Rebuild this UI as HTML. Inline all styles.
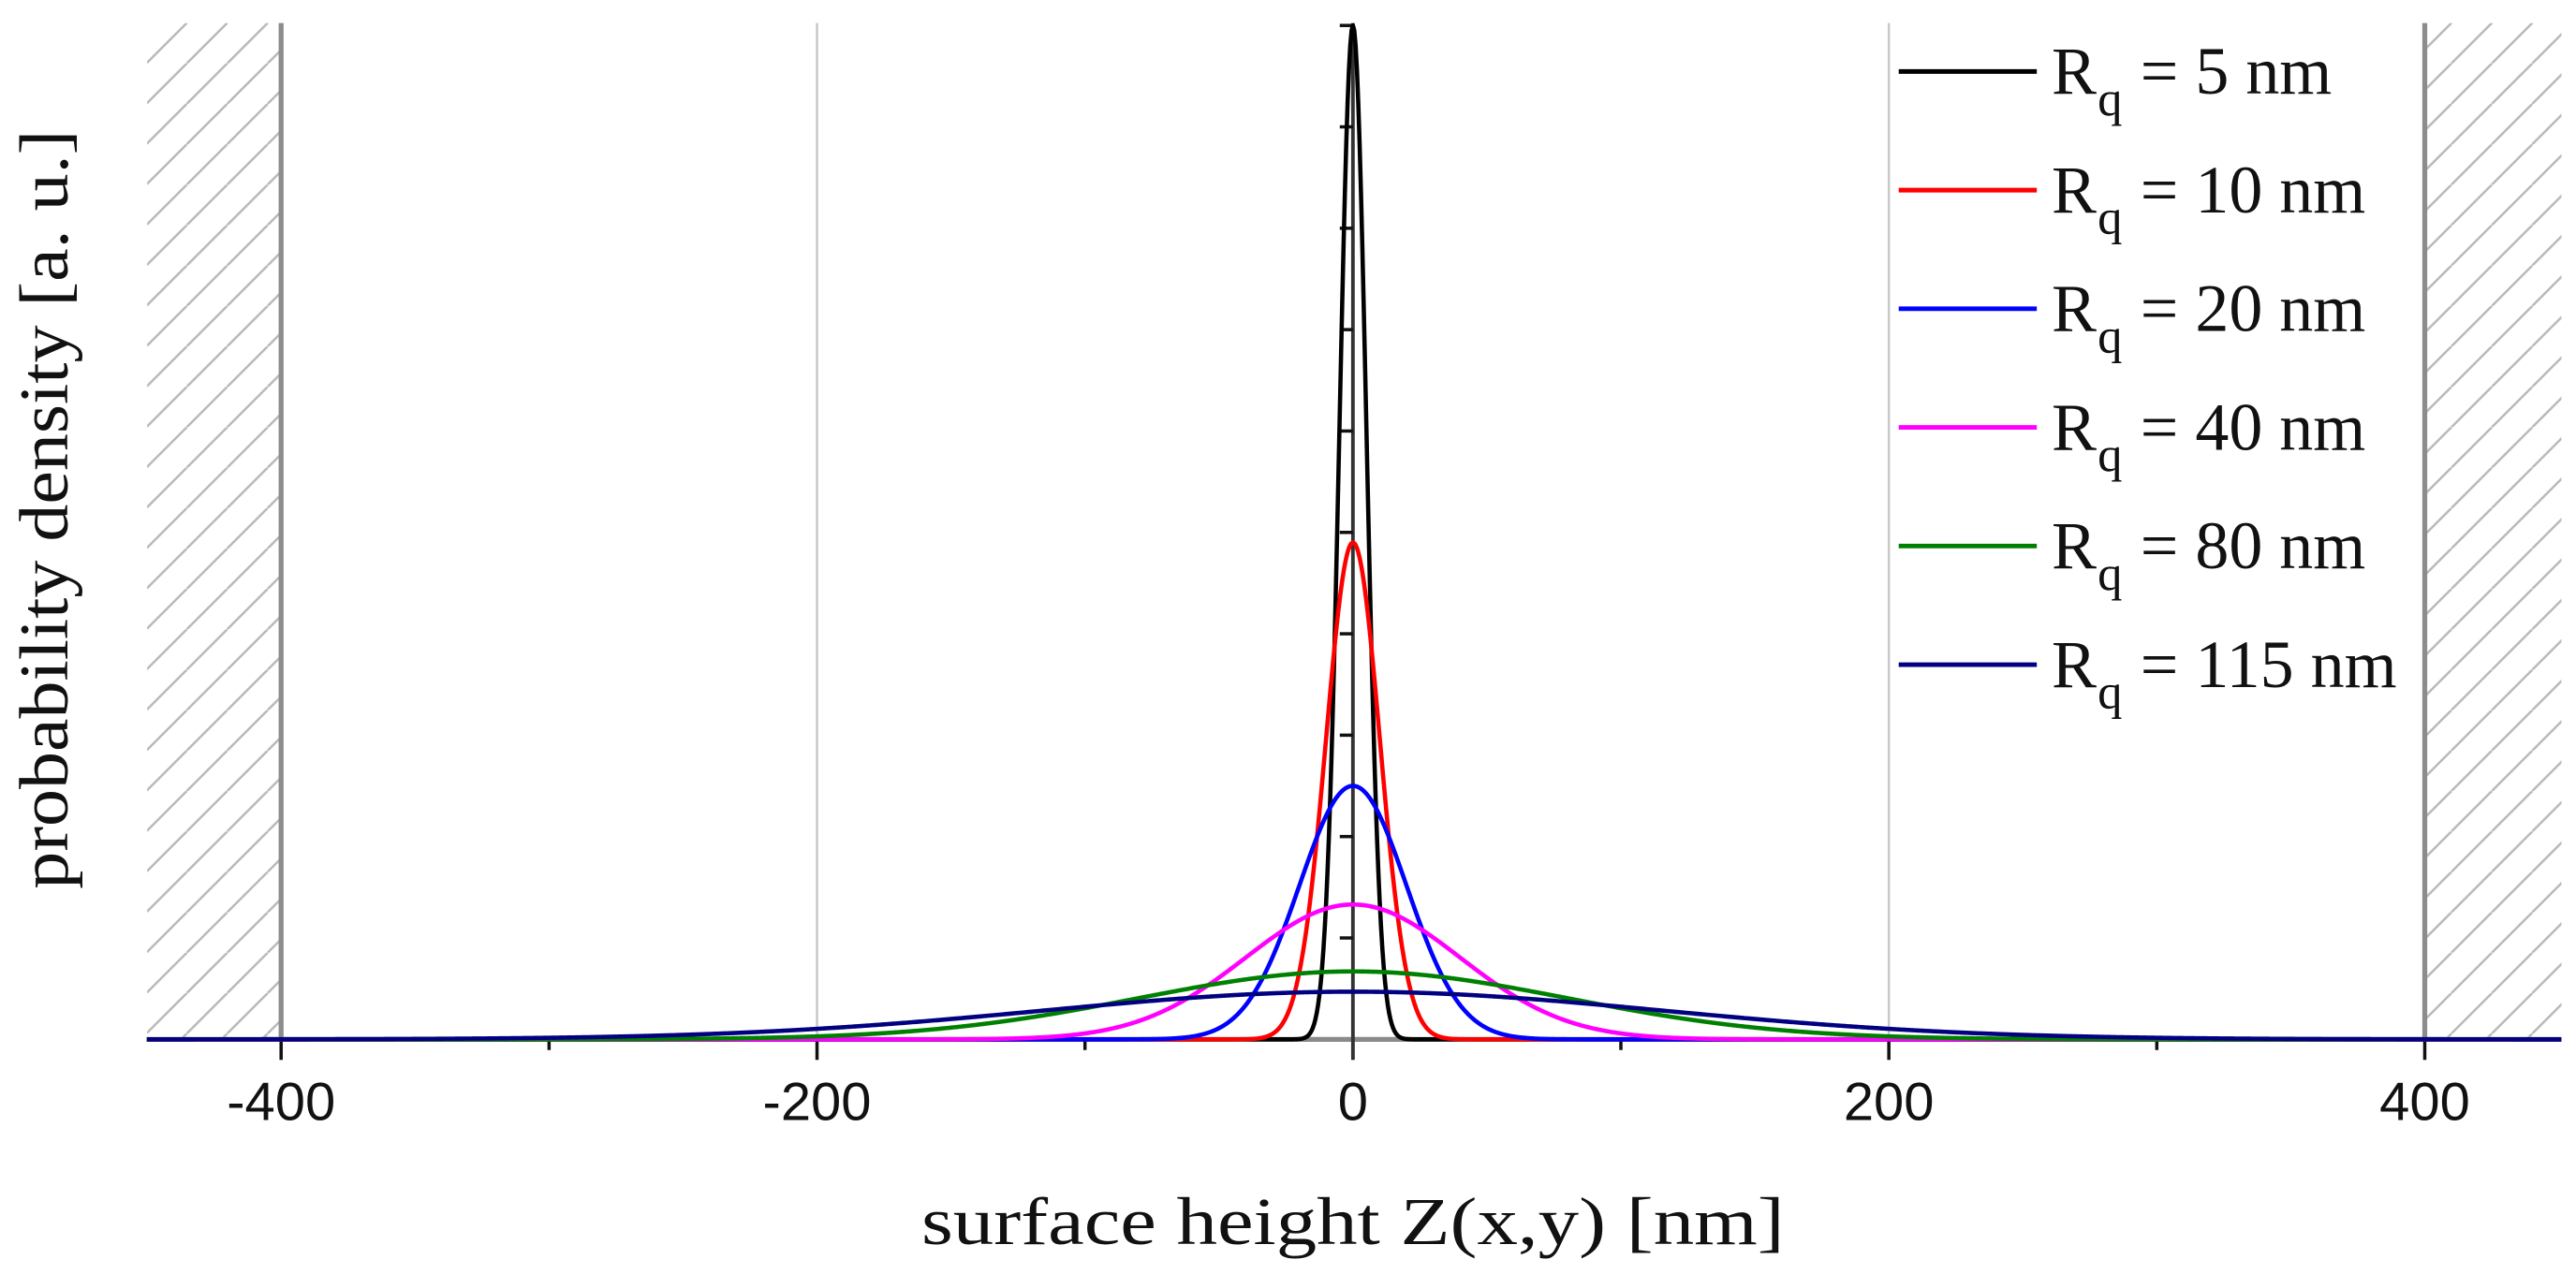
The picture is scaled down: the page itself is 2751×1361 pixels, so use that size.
<!DOCTYPE html>
<html><head><meta charset="utf-8">
<style>
html,body{margin:0;padding:0;background:#fff;}
svg{display:block;}
</style></head>
<body>
<svg id="chart" width="2751" height="1361" viewBox="0 0 1567 775.3" preserveAspectRatio="none" xmlns="http://www.w3.org/2000/svg">
<defs>
<pattern id="hatch" patternUnits="userSpaceOnUse" width="24.6" height="24.6" patternTransform="translate(89,14)">
<line x1="0" y1="24.6" x2="24.6" y2="0" stroke="#b8b8b8" stroke-width="1.4"/>
<line x1="-24.6" y1="24.6" x2="0" y2="0" stroke="#b8b8b8" stroke-width="1.4"/>
<line x1="24.6" y1="24.6" x2="49.2" y2="0" stroke="#b8b8b8" stroke-width="1.4"/>
</pattern>
<clipPath id="plotclip"><rect x="89" y="0" width="1470" height="640"/></clipPath>
</defs>
<g id="bg"></g>
<g id="grid"></g>
<g id="axes"></g>
<g id="series" clip-path="url(#plotclip)"></g>
<g id="legend"></g>
<text x="823" y="757" text-anchor="middle" font-family="Liberation Serif, serif" font-size="41" textLength="525" lengthAdjust="spacingAndGlyphs" fill="#111">surface height Z(x,y) [nm]</text>
<text transform="translate(41,310) rotate(-90)" text-anchor="middle" font-family="Liberation Serif, serif" font-size="42" textLength="462" lengthAdjust="spacingAndGlyphs" fill="#111">probability density [a. u.]</text>
</svg>
<script>
// ---- data ----
const rqValues = [5, 10, 20, 40, 80, 115];
const peakValues = [10.0, 4.9, 2.5, 1.33, 0.67, 0.47];
const seriesColors = ["#000000", "#ff0000", "#0000ff", "#ff00ff", "#008000", "#000080"];
const legendLabels = ["5 nm", "10 nm", "20 nm", "40 nm", "80 nm", "115 nm"];
const xMajorTicks = [-400, -200, 0, 200, 400];
const xMinorTicks = [-300, -100, 100, 300];
const xTickLabels = ["-400", "-200", "0", "200", "400"];
const yTicks = [1, 2, 3, 4, 5, 6, 7, 8, 9, 10];
const forbiddenZones = [[-450, -400], [400, 451]];

// ---- scales ----
const X0 = 823, PXNM = 1.63, Y0 = 632.5, PXU = 61.7;
function sx(v){ return X0 + v * PXNM; }
function sy(v){ return Y0 - v * PXU; }
const NS = "http://www.w3.org/2000/svg";
function mk(tag, attrs, parent){
  const e = document.createElementNS(NS, tag);
  for (const k in attrs) e.setAttribute(k, attrs[k]);
  parent.appendChild(e); return e;
}
const gBg = document.getElementById('bg');
const gGrid = document.getElementById('grid');
const gAxes = document.getElementById('axes');
const gSeries = document.getElementById('series');
const gLegend = document.getElementById('legend');
const TOP = 14;

forbiddenZones.forEach((z, i) => {
  const r = mk('rect', {x: sx(z[0]), y: TOP, width: sx(z[1]) - sx(z[0]), height: Y0 - TOP, fill: 'url(#hatch)'}, gBg);
  
  
});

xMajorTicks.forEach(v => {
  if (v === 0) return;
  const strong = Math.abs(v) === 400;
  const l = mk('line', {x1: sx(v), x2: sx(v), y1: TOP, y2: Y0, stroke: strong ? '#8c8c8c' : '#c8c8c8', 'stroke-width': strong ? 3 : 1.4}, gGrid);
  
  
});

const xa = mk('line', {x1: 89, x2: 1558, y1: Y0, y2: Y0, stroke: '#8a8a8a', 'stroke-width': 3}, gAxes);


xMajorTicks.forEach((v, i) => {
  const t = mk('line', {x1: sx(v), x2: sx(v), y1: Y0, y2: Y0 + 12.5, stroke: '#111', 'stroke-width': 2}, gAxes);
  
  
  const lb = mk('text', {x: sx(v), y: 681.5, 'text-anchor': 'middle', 'font-family': 'Liberation Sans, sans-serif', 'font-size': 33, fill: '#111'}, gAxes);
  lb.textContent = xTickLabels[i];
  
  
});
xMinorTicks.forEach(v => {
  const t = mk('line', {x1: sx(v), x2: sx(v), y1: Y0, y2: Y0 + 6.5, stroke: '#111', 'stroke-width': 2}, gAxes);
  
  
});

rqValues.forEach((rq, i) => {
  let d = '';
  for (let x = -450; x <= 451; x += 0.5) {
    const y = peakValues[i] * Math.exp(-0.5 * (x / rq) * (x / rq));
    d += (d ? 'L' : 'M') + sx(x).toFixed(2) + ',' + sy(y).toFixed(2);
  }
  const p = mk('path', {d: d, fill: 'none', stroke: seriesColors[i], 'stroke-width': 2.6, 'stroke-linejoin': 'round'}, gSeries);
  
  
});

const ya = mk('line', {x1: sx(0), x2: sx(0), y1: TOP, y2: Y0 + 12, stroke: '#333', 'stroke-width': 2.2}, gAxes);


yTicks.forEach(v => {
  const t = mk('line', {x1: sx(0) - 8, x2: sx(0), y1: sy(v), y2: sy(v), stroke: '#111', 'stroke-width': 2}, gAxes);
  
  
});

legendLabels.forEach((lab, i) => {
  const ly = 43.5 + 72.2 * i, by = 57 + 72.2 * i;
  const g = mk('g', {}, gLegend);
  
  
  const l = mk('line', {x1: 1155, x2: 1239, y1: ly, y2: ly, stroke: seriesColors[i], 'stroke-width': 2.8}, g);
  
  
  const t1 = mk('text', {x: 1248, y: by, 'font-family': 'Liberation Serif, serif', 'font-size': 41, fill: '#111'}, g);
  t1.textContent = 'R';
  
  
  const t2 = mk('text', {x: 1276, y: by + 13, 'font-family': 'Liberation Serif, serif', 'font-size': 30, fill: '#111'}, g);
  t2.textContent = 'q';
  
  
  const t3 = mk('text', {x: 1302, y: by, 'font-family': 'Liberation Serif, serif', 'font-size': 41, fill: '#111'}, g);
  t3.textContent = '= ' + lab;
  
  
});
</script>
</body></html>
